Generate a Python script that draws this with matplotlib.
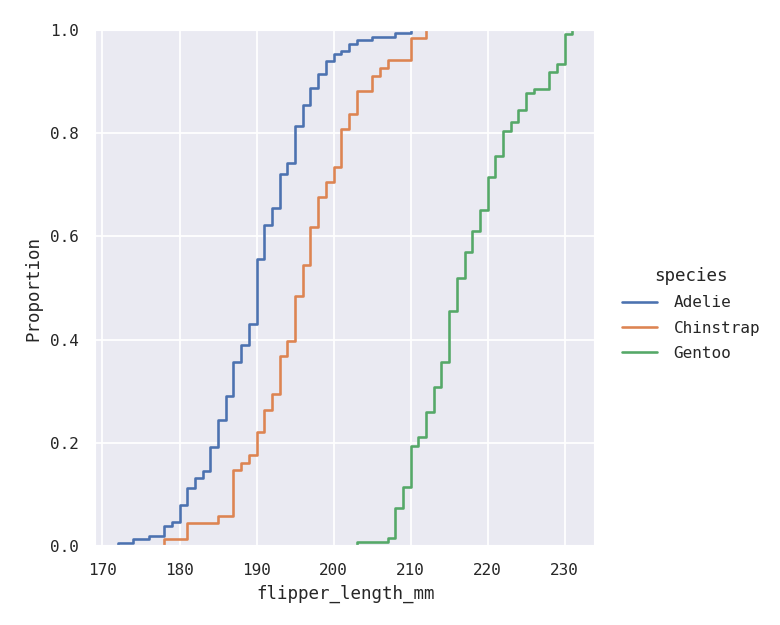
import numpy as np
import pandas as pd
import seaborn as sns
import matplotlib.pyplot as plt

adelie_len = [172, 174, 176, 178, 179, 180, 181, 182, 183, 184, 185, 186, 187, 188, 189, 190,
              191, 192, 193, 194, 195, 196, 197, 198, 199, 200, 201, 202, 203, 205, 208, 210]
adelie_cnt = [1, 1, 1, 3, 1, 5, 5, 3, 2, 7, 8, 7, 10, 5, 6, 19,
              10, 5, 10, 3, 11, 6, 5, 4, 4, 2, 1, 2, 1, 1, 1, 1]

chinstrap_len = [178, 181, 185, 187, 188, 189, 190, 191, 192, 193, 194, 195, 196,
                 197, 198, 199, 200, 201, 202, 203, 205, 206, 207, 210, 212]
chinstrap_cnt = [1, 2, 1, 6, 1, 1, 3, 3, 2, 5, 2, 6, 4,
                 5, 4, 2, 2, 5, 2, 3, 2, 1, 1, 3, 1]

gentoo_len = [203, 207, 208, 209, 210, 211, 212, 213, 214, 215, 216, 217, 218,
              219, 220, 221, 222, 223, 224, 225, 226, 228, 229, 230, 231]
gentoo_cnt = [1, 1, 7, 5, 10, 2, 6, 6, 6, 12, 8, 6, 5,
              5, 8, 5, 6, 2, 3, 4, 1, 4, 2, 7, 1]

species = ["Adelie", "Chinstrap", "Gentoo"]

frames = []
for name, vals, cnts in zip(species, [adelie_len, chinstrap_len, gentoo_len],
                            [adelie_cnt, chinstrap_cnt, gentoo_cnt]):
    frames.append(pd.DataFrame({"species": name,
                                "flipper_length_mm": np.repeat(vals, cnts)}))
df = pd.concat(frames, ignore_index=True)

sns.set_theme(style="darkgrid", font_scale=0.84)
plt.rcParams['font.family'] = ['DejaVu Sans Mono']

fig, ax = plt.subplots(figsize=(6.24, 5), dpi=125)
fig.subplots_adjust(left=0.122, right=0.763, bottom=0.126, top=0.952)
sns.ecdfplot(data=df, x="flipper_length_mm", hue="species", ax=ax, linewidth=1.5)
ax.set_ylim(0, 1)
# legend sits at the vertical centre of the figure, like a FacetGrid legend
sns.move_legend(ax, "center left", bbox_to_anchor=(1.025, 0.45), frameon=False,
                labelspacing=0.65, handletextpad=1.0, handlelength=2.2)

fig.savefig("out.png", dpi=125)
